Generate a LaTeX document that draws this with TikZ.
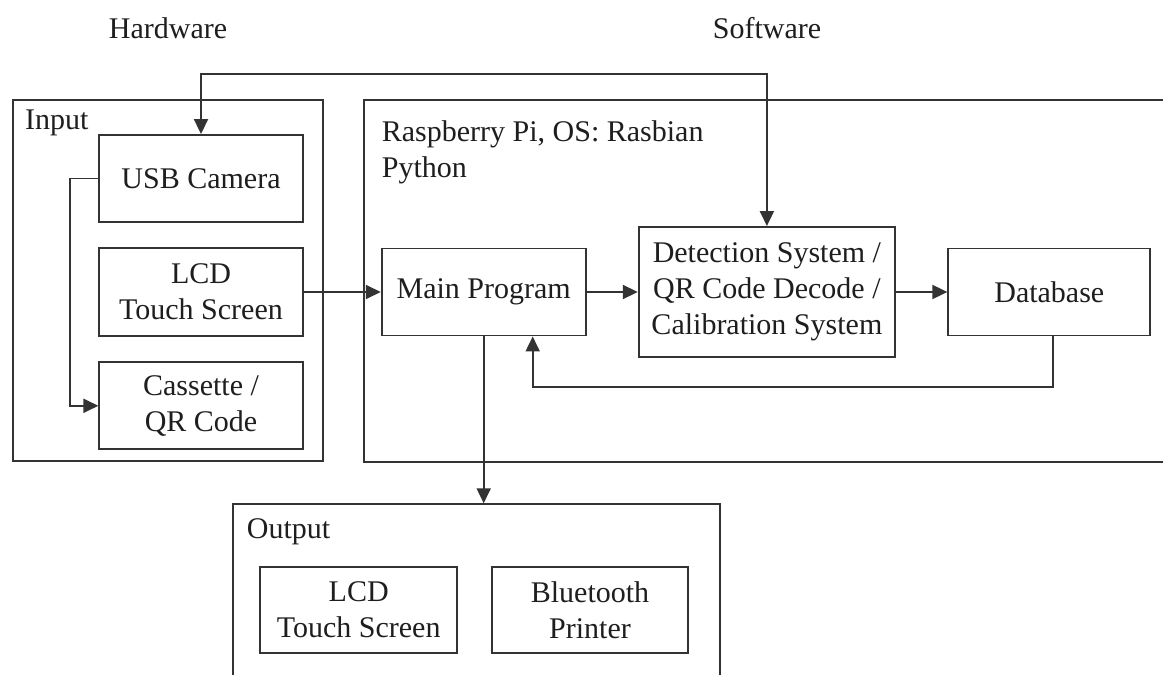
\documentclass[tikz,border=0pt]{standalone}
\usepackage{fontspec}
\setmainfont{Liberation Serif}
\usetikzlibrary{arrows.meta}
\definecolor{ink}{HTML}{1E1E1E}
\definecolor{edge}{HTML}{333333}
\tikzset{
  block/.style={draw=edge, line width=1.9pt, align=center, inner sep=0pt,
    text=ink, font=\fontsize{30}{36}\selectfont},
  group/.style={draw=edge, line width=1.9pt, inner sep=0pt, anchor=north west},
  caption/.style={text=ink, font=\fontsize{30}{36}\selectfont, inner sep=0pt},
  tip/.style={-{Triangle[length=15pt,width=14pt]}},
  flow/.style={draw=edge, line width=1.9pt, tip},
}
\begin{document}
\begin{tikzpicture}[x=1pt,y=-1pt]
\useasboundingbox (0,0) rectangle (1163,675);
\clip (0,0) rectangle (1163,675);
\fill[white] (0,0) rectangle (1163,675);

% headings
\node[caption] (hw) at (168,28) {Hardware};
\node[caption] (sw) at (767,28) {Software};

% group frames
\node[group, minimum width=310pt, minimum height=361pt] (input) at (12,99.3) {};
\node[group, minimum width=820pt, minimum height=361.7pt] (soft) at (362.7,99.3) {};
\node[group, minimum width=486.7pt, minimum height=220pt] (output) at (232.3,503.3) {};

\node[caption, anchor=west] (inlbl) at (25,123) {Input};
\node[caption, anchor=north west, align=left] (pilbl) at (381.7,120)
  {Raspberry Pi, OS: Rasbian\\Python};
\node[caption, anchor=west] (outlbl) at (246.7,531.7) {Output};

% input blocks
\node[block, minimum width=203.4pt, minimum height=87pt] (usb) at (201,178.5) {USB Camera};
\node[block, minimum width=203.4pt, minimum height=88pt] (lcdin) at (201,292) {LCD\\Touch Screen};
\node[block, minimum width=203.4pt, minimum height=87pt] (cas) at (201,405.8) {Cassette /\\QR Code};

% software blocks
\node[block, minimum width=204pt, minimum height=87pt] (main) at (483.7,292) {Main Program};
\node[block, minimum width=256.3pt, minimum height=130pt] (det) at (766.9,292)
  {Detection System /\\QR Code Decode /\\Calibration System};
\node[block, minimum width=202pt, minimum height=87pt] (db) at (1049.3,292) {Database};

% output blocks
\node[block, minimum width=197.3pt, minimum height=86.6pt] (lcdout) at (358.7,610) {LCD\\Touch Screen};
\node[block, minimum width=196.6pt, minimum height=86.6pt] (bt) at (590,610) {Bluetooth\\Printer};

% routing points
\coordinate (topbus) at (480,74);
\coordinate (leftbus) at (70,178.5);
\coordinate (fb) at (532.7,386.7);

% connectors
\draw[flow, {Triangle[length=15pt,width=14pt]}-{Triangle[length=15pt,width=14pt]}]
  (usb.north) |- (topbus) -| (det.north);
\draw[flow] (usb.west) -- (leftbus) |- (cas.west);
\draw[flow] (lcdin.east) -- (main.west);
\draw[flow] (main.east) -- (det.west);
\draw[flow] (det.east) -- (db.west);
\draw[flow] ([xshift=4pt]db.south) |- (fb) -- (fb |- main.south);
\draw[flow] (main.south) -- (main.south |- output.north);
\end{tikzpicture}
\end{document}
